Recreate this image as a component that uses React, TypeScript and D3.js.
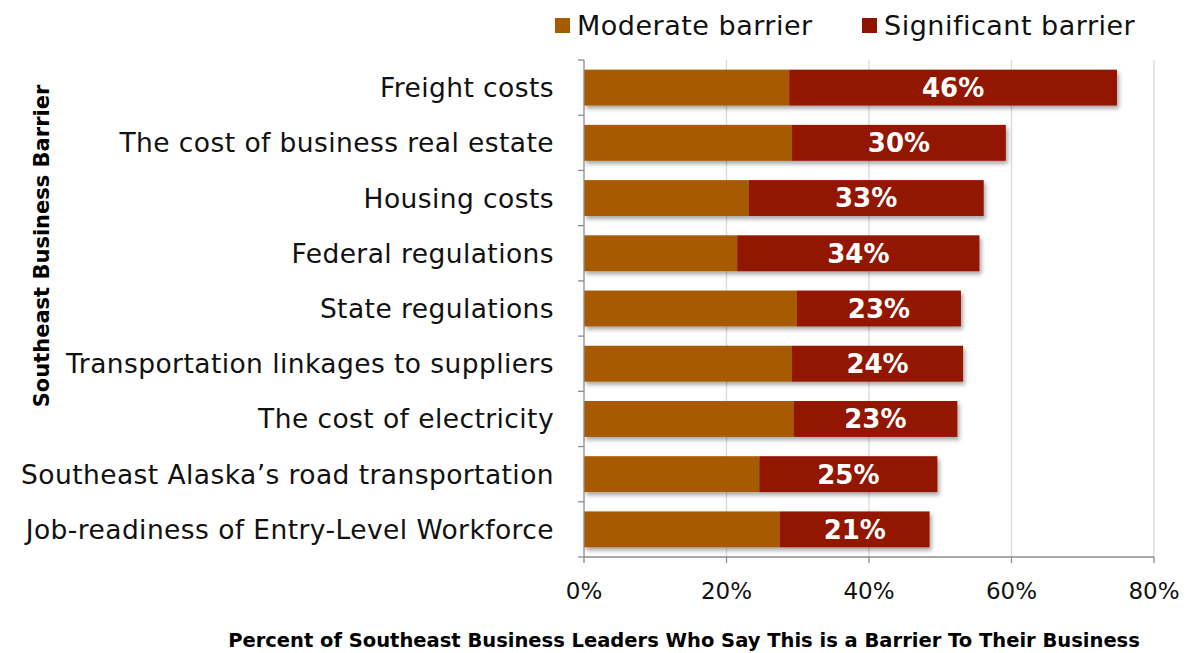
import React from "react";
import * as d3 from "d3";

const categories = [
  "Freight costs",
  "The cost of business real estate",
  "Housing costs",
  "Federal regulations",
  "State regulations",
  "Transportation linkages to suppliers",
  "The cost of electricity ",
  "Southeast Alaska\u2019s road transportation",
  "Job-readiness of Entry-Level Workforce",
];
const moderate = [28.8, 29.2, 23.1, 21.5, 29.9, 29.2, 29.4, 24.6, 27.5];
const significant = [46, 30, 33, 34, 23, 24, 23, 25, 21];
const xTicks = [0, 20, 40, 60, 80];
const seriesNames = ["Moderate barrier", "Significant barrier"];
const colors = ["#A85A00", "#921200"];

const W = 1193;
const H = 653;
const left = 584;
const right = 1154;
const top = 60;
const bottom = 557;
const FONT = "'DejaVu Sans', sans-serif";

export default function App() {
  const x = d3.scaleLinear().domain([0, 80]).range([left, right]);
  const y = d3.scaleBand<string>().domain(categories).range([top, bottom]).paddingInner(0.35).paddingOuter(0.175);
  const bw = y.bandwidth();
  const boundaries = d3.range(categories.length + 1).map((i) => top + i * ((bottom - top) / categories.length));

  return (
    <svg width={W} height={H} style={{ position: "absolute", left: 0, top: 0, background: "#fff" }} fontFamily={FONT}>
      <defs>
        <filter id="shadow" x="-5%" y="-20%" width="115%" height="160%">
          <feDropShadow dx="2" dy="3" stdDeviation="2" floodColor="#000" floodOpacity="0.35" />
        </filter>
      </defs>
      {xTicks.slice(1).map((t) => (
        <line key={t} x1={x(t)} x2={x(t)} y1={top} y2={bottom} stroke="#d9d9d9" strokeWidth={1.3} />
      ))}
      {categories.map((c, i) => {
        const y0 = y(c)!;
        return (
          <g key={c} filter="url(#shadow)">
            <rect x={x(0)} y={y0} width={x(moderate[i]) - x(0)} height={bw} fill={colors[0]} />
            <rect x={x(moderate[i])} y={y0} width={x(moderate[i] + significant[i]) - x(moderate[i])} height={bw} fill={colors[1]} />
          </g>
        );
      })}
      {categories.map((c, i) => {
        const y0 = y(c)!;
        return (
          <text key={c} x={(x(moderate[i]) + x(moderate[i] + significant[i])) / 2} y={y0 + bw / 2} dy="0.36em" textAnchor="middle" fill="#fff" fontWeight="bold" fontSize={26}>
            {significant[i]}%
          </text>
        );
      })}
      <line x1={left} x2={left} y1={top} y2={bottom} stroke="#8c8c8c" strokeWidth={1.3} />
      {boundaries.map((b, i) => (
        <line key={i} x1={left - 6} x2={left} y1={b} y2={b} stroke="#8c8c8c" strokeWidth={1.3} />
      ))}
      <line x1={left} x2={right} y1={bottom} y2={bottom} stroke="#8c8c8c" strokeWidth={1.3} />
      {xTicks.map((t) => (
        <g key={t}>
          <line x1={x(t)} x2={x(t)} y1={bottom} y2={bottom + 6} stroke="#8c8c8c" strokeWidth={1.3} />
          <text x={x(t)} y={591} dy="0.36em" textAnchor="middle" fontSize={23} fill="#111">
            {t}%
          </text>
        </g>
      ))}
      {categories.map((c) => (
        <text key={c} x={554} y={y(c)! + bw / 2} dy="0.36em" textAnchor="end" fontSize={26.5} letterSpacing={0.42} fill="#111">
          {c}
        </text>
      ))}
      {seriesNames.map((s, i) => {
        const lx = [555, 862][i];
        return (
          <g key={s}>
            <rect x={lx} y={18} width={15} height={15} fill={colors[i]} />
            <text x={lx + 22} y={25} dy="0.36em" fontSize={27} letterSpacing={0.5} fill="#111">
              {s}
            </text>
          </g>
        );
      })}
      <text transform={`translate(41,246) rotate(-90)`} dy="0.36em" textAnchor="middle" fontWeight="bold" fontSize={21} fill="#000">
        Southeast Business Barrier
      </text>
      <text x={684} y={640} dy="0.36em" textAnchor="middle" fontWeight="bold" fontSize={19.5} fill="#000">
        Percent of Southeast Business Leaders Who Say This is a Barrier To Their Business
      </text>
    </svg>
  );
}
